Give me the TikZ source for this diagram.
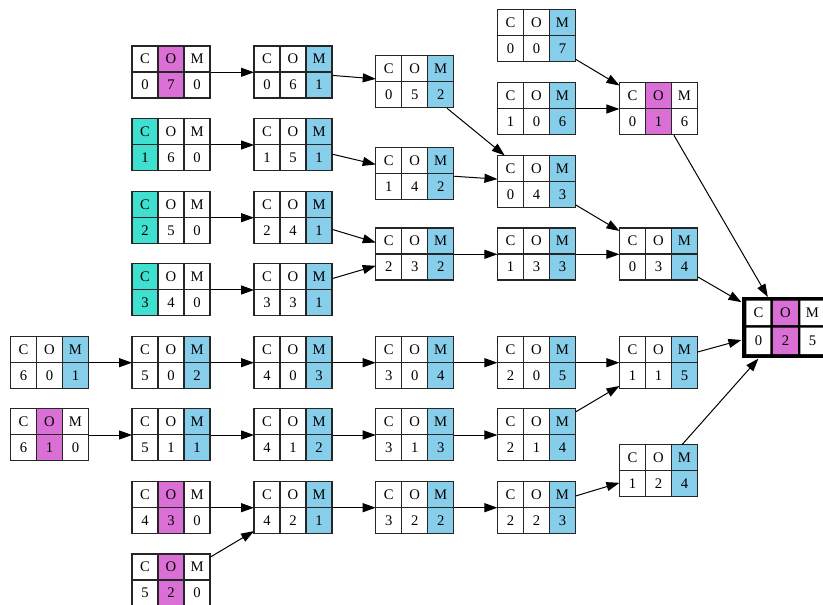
\documentclass[tikz,border=0pt]{standalone}
\usepackage{fontspec}
\setmainfont{Liberation Serif}
\usetikzlibrary{arrows.meta}

\definecolor{hlC}{RGB}{64,224,208}
\definecolor{hlO}{RGB}{218,112,214}
\definecolor{hlM}{RGB}{135,206,235}

% one state: name, position, C, O, M, marked column (1=C, 2=O, 3=M)
\newcommand{\comstate}[6]{%
  \node[statebox] (#1) at (#2) {};
  \begin{scope}[shift={(#1.north west)}]
    \ifcase#6\or
      \fill[hlC] (0,0) rectangle (26,52);\or
      \fill[hlO] (26,0) rectangle (52,52);\or
      \fill[hlM] (52,0) rectangle (78,52);\fi
    \draw[cellline] (0,0) rectangle (78,52) (26,0) -- (26,52) (52,0) -- (52,52) (0,26) -- (78,26);
    \node (#1hc) at (13,13) {C};
    \node (#1ho) at (39,13) {O};
    \node (#1hm) at (65,13) {M};
    \node (#1vc) at (13,39) {#3};
    \node (#1vo) at (39,39) {#4};
    \node (#1vm) at (65,39) {#5};
  \end{scope}}

\begin{document}
\begin{tikzpicture}[x=0.75pt, y=-0.75pt, font=\fontsize{11}{13}\selectfont,
    statebox/.style={rectangle, minimum width=58.5pt, minimum height=39pt, inner sep=0pt, fill=white},
    cellline/.style={draw=black!85, line width=1pt},
    flow/.style={-{Triangle[length=9.75pt,width=6.75pt]}, line width=0.75pt}]
    \useasboundingbox (0,0) rectangle (823,605);
    \clip (0,0) rectangle (823,605);

    % First column
    \comstate{s601}{49.7,362.7}{6}{0}{1}{3}
    \comstate{s610}{49.7,435}{6}{1}{0}{2}

    % Second column
    \comstate{s070}{171.3,72.3}{0}{7}{0}{2}
    \comstate{s160}{171.3,145}{1}{6}{0}{1}
    \comstate{s250}{171.3,217.7}{2}{5}{0}{1}
    \comstate{s340}{171.3,290}{3}{4}{0}{1}
    \comstate{s502}{171.3,362.7}{5}{0}{2}{3}
    \comstate{s511}{171.3,435}{5}{1}{1}{3}
    \comstate{s430}{171.3,507.7}{4}{3}{0}{2}
    \comstate{s520}{171.3,580.3}{5}{2}{0}{2}

    % Third column
    \comstate{s061}{293.3,72.3}{0}{6}{1}{3}
    \comstate{s151}{293.3,145}{1}{5}{1}{3}
    \comstate{s241}{293.3,217.7}{2}{4}{1}{3}
    \comstate{s331}{293.3,290}{3}{3}{1}{3}
    \comstate{s403}{293.3,362.7}{4}{0}{3}{3}
    \comstate{s412}{293.3,435}{4}{1}{2}{3}
    \comstate{s421}{293.3,507.7}{4}{2}{1}{3}

    % Fourth column
    \comstate{s052}{415,82}{0}{5}{2}{3}
    \comstate{s142}{415,173.7}{1}{4}{2}{3}
    \comstate{s232}{415,254.3}{2}{3}{2}{3}
    \comstate{s304}{415,362.7}{3}{0}{4}{3}
    \comstate{s313}{415,435}{3}{1}{3}{3}
    \comstate{s322}{415,507.7}{3}{2}{2}{3}

    % Fifth column
    \comstate{s007}{536.7,36}{0}{0}{7}{3}
    \comstate{s106}{536.7,109}{1}{0}{6}{3}
    \comstate{s043}{536.7,181.7}{0}{4}{3}{3}
    \comstate{s133}{536.7,254.3}{1}{3}{3}{3}
    \comstate{s205}{536.7,362.7}{2}{0}{5}{3}
    \comstate{s214}{536.7,435}{2}{1}{4}{3}
    \comstate{s223}{536.7,507.7}{2}{2}{3}{3}

    % Sixth column
    \comstate{s016}{658.7,109}{0}{1}{6}{2}
    \comstate{s034}{658.7,254.3}{0}{3}{4}{3}
    \comstate{s115}{658.7,362.7}{1}{1}{5}{3}
    \comstate{s124}{658.7,471}{1}{2}{4}{3}

    % Final state
    \node[rectangle, minimum width=66pt, minimum height=45.75pt, inner sep=0pt, fill=black] (s025) at (785.7,327.8) {};
    \begin{scope}[shift={(s025.north west)}]
        \fill[white] (5,3.5) rectangle (29,28) (59,3.5) rectangle (83,28)
            (5,30.5) rectangle (29,57) (59,30.5) rectangle (83,57);
        \fill[hlO] (31.5,3.5) rectangle (56.5,28) (31.5,30.5) rectangle (56.5,57);
        \node (s025hc) at (17,15.75) {C};
        \node (s025ho) at (44,15.75) {O};
        \node (s025hm) at (71,15.75) {M};
        \node (s025vc) at (17,43.75) {0};
        \node (s025vo) at (44,43.75) {2};
        \node (s025vm) at (71,43.75) {5};
    \end{scope}

    % Arrows
    \draw[flow] (s070) -- (s061);
    \draw[flow] (s061) -- (s052);
    \draw[flow] (s160) -- (s151);
    \draw[flow] (s151) -- (s142);
    \draw[flow] (s250) -- (s241);
    \draw[flow] (s241) -- (s232);
    \draw[flow] (s340) -- (s331);
    \draw[flow] (s331) -- (s232);
    \draw[flow] (s052) -- (s043);
    \draw[flow] (s142) -- (s043);
    \draw[flow] (s232) -- (s133);
    \draw[flow] (s133) -- (s034);
    \draw[flow] (s043) -- (s034);
    \draw[flow] (s007) -- (s016);
    \draw[flow] (s106) -- (s016);
    \draw[flow] (s016) -- (s025);
    \draw[flow] (s034) -- (s025);
    \draw[flow] (s601) -- (s502);
    \draw[flow] (s502) -- (s403);
    \draw[flow] (s403) -- (s304);
    \draw[flow] (s304) -- (s205);
    \draw[flow] (s205) -- (s115);
    \draw[flow] (s115) -- (s025);
    \draw[flow] (s610) -- (s511);
    \draw[flow] (s511) -- (s412);
    \draw[flow] (s412) -- (s313);
    \draw[flow] (s313) -- (s214);
    \draw[flow] (s214) -- (s115);
    \draw[flow] (s430) -- (s421);
    \draw[flow] (s520) -- (s421);
    \draw[flow] (s421) -- (s322);
    \draw[flow] (s322) -- (s223);
    \draw[flow] (s223) -- (s124);
    \draw[flow] (s124) -- (s025);
\end{tikzpicture}
\end{document}
